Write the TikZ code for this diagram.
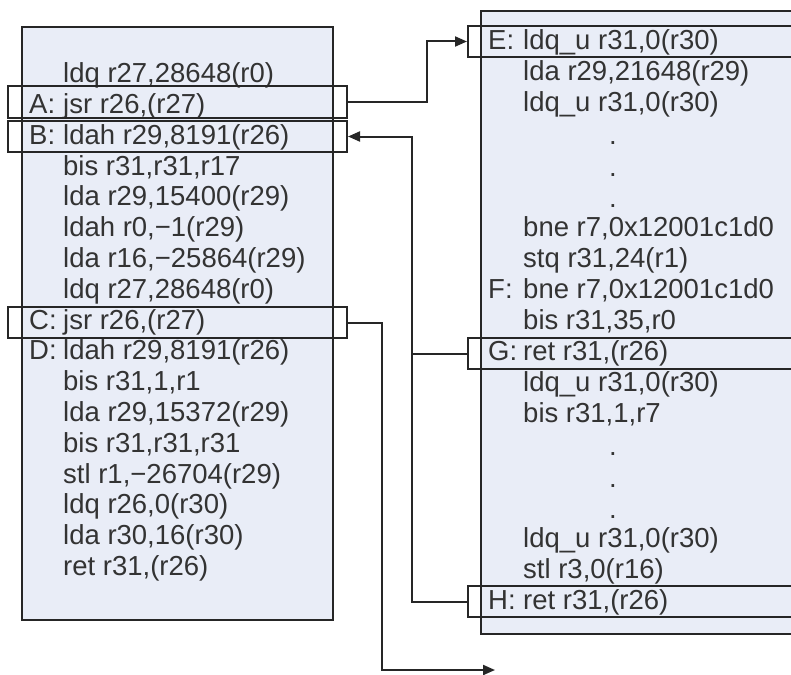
\documentclass[tikz,border=0pt]{standalone}
\usepackage{fontspec}
\setmainfont{Liberation Sans}
\usetikzlibrary{arrows.meta}
\definecolor{boxfill}{HTML}{E9EDF7}
\tikzset{
  codebox/.style={draw=black!85, line width=2.2pt, fill=boxfill},
  hlbox/.style={draw=black!85, line width=2pt, minimum height=31pt, inner sep=0pt},
  asm/.style={anchor=mid west, inner sep=0pt, text=black!80, font=\fontsize{27.5}{30}\selectfont},
  wire/.style={line width=2pt, draw=black!85},
  jump/.style={wire, -{Triangle[length=12pt,width=10pt]}}
}

\begin{document}
\begin{tikzpicture}[x=1pt,y=-1pt]
\useasboundingbox (0,0) rectangle (791,674);
% the two listings
\draw[codebox] (22,27) rectangle (333,620);
\draw[codebox] (481,11) rectangle (830,634);

% left listing
\foreach \txt [count=\i from 0] in {{ldq r27,28648(r0)}, {jsr r26,(r27)}, {ldah r29,8191(r26)},
    {bis r31,r31,r17}, {lda r29,15400(r29)}, {ldah r0,−1(r29)}, {lda r16,−25864(r29)},
    {ldq r27,28648(r0)}, {jsr r26,(r27)}, {ldah r29,8191(r26)}, {bis r31,1,r1},
    {lda r29,15372(r29)}, {bis r31,r31,r31}, {stl r1,−26704(r29)}, {ldq r26,0(r30)},
    {lda r30,16(r30)}, {ret r31,(r26)}}
  \node[asm] (l\i) at (63,80+30.8*\i) {\txt};
\foreach \lab/\i in {A/1,B/2,C/8,D/9}
  \node[asm] (lab\lab) at (29,80+30.8*\i) {\lab:};

% right listing
\foreach \j/\txt in {0/{ldq\_u r31,0(r30)}, 1/{lda r29,21648(r29)}, 2/{ldq\_u r31,0(r30)},
    6/{bne r7,0x12001c1d0}, 7/{stq r31,24(r1)}, 8/{bne r7,0x12001c1d0}, 9/{bis r31,35,r0},
    10/{ret r31,(r26)}, 11/{ldq\_u r31,0(r30)}, 12/{bis r31,1,r7}, 16/{ldq\_u r31,0(r30)},
    17/{stl r3,0(r16)}, 18/{ret r31,(r26)}}
  \node[asm] (r\j) at (523,47+31.1*\j) {\txt};
\foreach \j in {3,4,5,13,14,15}
  \node[asm, anchor=mid] (dot\j) at (613,49+31.1*\j) {.};
\foreach \lab/\j in {E/0,F/8,G/10,H/18}
  \node[asm] (lab\lab) at (488,47+31.1*\j) {\lab:};

% marked instructions
\node[hlbox, minimum width=339pt] (A) at (177.5,102) {};
\node[hlbox, minimum width=339pt] (B) at (177.5,136.5) {};
\node[hlbox, minimum width=339pt] (C) at (177.5,322.5) {};
\node[hlbox, minimum width=380pt, anchor=west] (E) at (467,41.5) {};
\node[hlbox, minimum width=380pt, anchor=west] (G) at (467,353.5) {};
\node[hlbox, minimum width=380pt, anchor=west] (H) at (467,601.5) {};

% calls and returns
\draw[jump] (A.east) -- ++(79,0) |- (E.west);
\draw[jump] (H.west) -- ++(-55,0) |- (B.east);
\draw[wire] (G.west) -- ++(-55,0);
\coordinate (exit) at (495,670);
\draw[jump] (C.east) -- ++(34,0) |- (exit);
\end{tikzpicture}
\end{document}
